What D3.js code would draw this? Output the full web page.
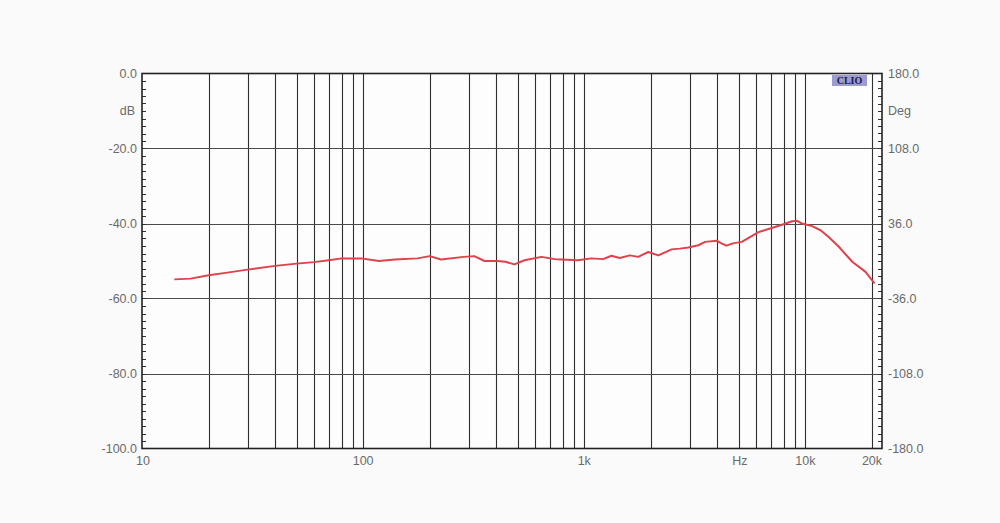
<!DOCTYPE html>
<html>
<head>
<meta charset="utf-8">
<script src="https://cdn.jsdelivr.net/npm/d3@7/dist/d3.min.js"></script>
<style>
html,body{margin:0;padding:0;background:#fafafa;}
svg{display:block;}
text{font-family:"Liberation Sans",Arial,sans-serif;}
</style>
</head>
<body>
<svg id="chart" width="1000" height="523"></svg>
<script>
// ---- data ----
const freqHz = [14, 16.6, 20, 24.3, 30, 40, 50, 60, 70, 80, 98, 118, 139, 176, 200, 225, 285, 318, 354, 405, 440, 483, 537, 640, 735, 787, 937, 1075, 1216, 1327, 1447, 1608, 1754, 1947, 2161, 2484, 2705, 2954, 3281, 3517, 3966, 4170, 4390, 4700, 5155, 6134, 7047, 7960, 8700, 9170, 9640, 10720, 11710, 12740, 14160, 16280, 18700, 20550];
const levelDb = [-54.9, -54.7, -53.8, -53.1, -52.3, -51.3, -50.7, -50.3, -49.8, -49.3, -49.3, -50.0, -49.6, -49.3, -48.7, -49.6, -48.9, -48.7, -50.0, -50.0, -50.2, -50.9, -49.8, -48.9, -49.5, -49.6, -49.8, -49.3, -49.5, -48.6, -49.2, -48.5, -48.9, -47.6, -48.5, -46.9, -46.7, -46.4, -45.8, -44.9, -44.6, -45.3, -45.9, -45.3, -44.9, -42.3, -41.2, -40.2, -39.4, -39.3, -40.0, -40.7, -41.8, -43.6, -46.2, -50.2, -52.9, -56.0];
const dbTicks = [0, -20, -40, -60, -80, -100];
const dbTickLabels = ["0.0", "-20.0", "-40.0", "-60.0", "-80.0", "-100.0"];
const degTicks = [180, 108, 36, -36, -108, -180];
const degTickLabels = ["180.0", "108.0", "36.0", "-36.0", "-108.0", "-180.0"];
const freqGrid = [20,30,40,50,60,70,80,90,100,200,300,400,500,600,700,800,900,1000,2000,3000,4000,5000,6000,7000,8000,9000,10000,20000];
const freqLabelVals = [10, 100, 1000, 10000, 20000];
const freqLabels = ["10", "100", "1k", "10k", "20k"];
const hzLabelFreq = 5000;

// ---- layout ----
const svg = d3.select("#chart");
const L = 142, R = 882, T = 73.5, B = 448.5;
const x = d3.scaleLog().domain([10, 22200]).range([L, R]);
const y = d3.scaleLinear().domain([-100, 0]).range([B, T]);
const yDeg = d3.scaleLinear().domain([-180, 180]).range([B, T]);

svg.append("rect").attr("x", L).attr("y", T).attr("width", R - L).attr("height", B - T).attr("fill", "#fdfdfd");

// grid
svg.append("g").selectAll("line").data(freqGrid).join("line")
  .attr("x1", d => Math.round(x(d)) + 0.5).attr("x2", d => Math.round(x(d)) + 0.5)
  .attr("y1", T).attr("y2", B).attr("stroke", "#2e2e2e").attr("stroke-width", 1.1);
svg.append("g").selectAll("line").data(dbTicks.slice(1, -1)).join("line")
  .attr("x1", L).attr("x2", R)
  .attr("y1", d => Math.round(y(d)) + 0.5).attr("y2", d => Math.round(y(d)) + 0.5)
  .attr("stroke", "#4a4a4a").attr("stroke-width", 1.1);

// minor ticks left (every 2 dB) and right (every 7.2 deg)
const leftMinor = d3.range(-98, 0, 2);
svg.append("g").selectAll("line").data(leftMinor).join("line")
  .attr("x1", L).attr("x2", L + 4)
  .attr("y1", d => Math.round(y(d)) + 0.5).attr("y2", d => Math.round(y(d)) + 0.5)
  .attr("stroke", "#333").attr("stroke-width", 1);
const rightMinor = d3.range(1, 50).map(i => -180 + i * 7.2);
svg.append("g").selectAll("line").data(rightMinor).join("line")
  .attr("x1", R - 4).attr("x2", R)
  .attr("y1", d => Math.round(yDeg(d)) + 0.5).attr("y2", d => Math.round(yDeg(d)) + 0.5)
  .attr("stroke", "#333").attr("stroke-width", 1);

// border
svg.append("rect").attr("x", L).attr("y", T).attr("width", R - L).attr("height", B - T)
  .attr("fill", "none").attr("stroke", "#222").attr("stroke-width", 1.6);

// curve
const line = d3.line().x((d, i) => x(freqHz[i])).y(d => y(d));
svg.append("path").datum(levelDb).attr("d", line)
  .attr("fill", "none").attr("stroke", "#e0414b").attr("stroke-width", 2).attr("stroke-linejoin", "round");

// left labels
const lab = svg.append("g").attr("fill", "#6a6a6a").attr("font-size", 12.5);
lab.selectAll("text.l").data(dbTicks).join("text").attr("class", "l")
  .attr("x", 137).attr("y", d => y(d)).attr("dy", "0.35em").attr("text-anchor", "end")
  .text((d, i) => dbTickLabels[i]);
lab.append("text").attr("x", 135).attr("y", y(-10)).attr("dy", "0.35em").attr("text-anchor", "end").text("dB");
// right labels
lab.selectAll("text.r").data(degTicks).join("text").attr("class", "r")
  .attr("x", 888).attr("y", d => yDeg(d)).attr("dy", "0.35em").attr("text-anchor", "start")
  .text((d, i) => degTickLabels[i]);
lab.append("text").attr("x", 888).attr("y", yDeg(144)).attr("dy", "0.35em").attr("text-anchor", "start").text("Deg");
// bottom labels
lab.selectAll("text.b").data(freqLabelVals).join("text").attr("class", "b")
  .attr("x", d => x(d) + (d === 10 ? 1 : 0)).attr("y", 461).attr("dy", "0.35em").attr("text-anchor", "middle")
  .text((d, i) => freqLabels[i]);
lab.append("text").attr("x", x(hzLabelFreq) + 1).attr("y", 461).attr("dy", "0.35em").attr("text-anchor", "middle").text("Hz");

// CLIO badge
svg.append("rect").attr("x", 832).attr("y", 75).attr("width", 35).attr("height", 11).attr("fill", "#9c9cd2");
svg.append("text").attr("x", 849.5).attr("y", 80.7).attr("dy", "0.35em").attr("text-anchor", "middle")
  .style("font-family", "'Liberation Serif','DejaVu Serif',serif").attr("font-weight", "bold")
  .attr("font-size", 10).attr("fill", "#1a1a40").text("CLIO");
</script>
</body>
</html>
